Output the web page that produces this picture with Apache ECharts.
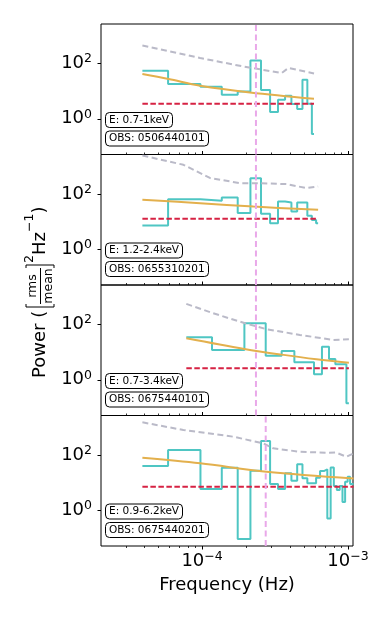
<!DOCTYPE html>
<html>
<head>
<meta charset="utf-8">
<script src="https://cdn.jsdelivr.net/npm/echarts@6/dist/echarts.min.js"></script>
<style>
  html, body { margin: 0; padding: 0; background: #fff; }
  #chart { width: 390px; height: 625px; }
</style>
</head>
<body>
<div id="chart"></div>
<script>
// panel labels
const energies = ['E: 0.7-1keV', 'E: 1.2-2.4keV', 'E: 0.7-3.4keV', 'E: 0.9-6.2keV'];
const obsIds = ['OBS: 0506440101', 'OBS: 0655310201', 'OBS: 0675440101', 'OBS: 0675440201'];

// PDS (Hz, power)
const freq1 = [3.9e-5, 7.8e-5, 1.17e-4, 1.56e-4, 1.95e-4, 2.34e-4, 2.73e-4, 3.12e-4, 3.51e-4, 3.9e-4, 4.29e-4, 4.68e-4, 5.07e-4, 5.46e-4, 5.85e-4];
const pds1 = [55.7, 18.3, 14.6, 7.46, 9.84, 132, 11.1, 1.75, 4.9, 6.87, 3.43, 2.25, 26.2, 3.5, 0.278];
const freq2 = [3.9e-5, 7.8e-5, 1.17e-4, 1.56e-4, 1.95e-4, 2.34e-4, 2.73e-4, 3.12e-4, 3.51e-4, 3.9e-4, 4.29e-4, 4.68e-4, 5.07e-4, 5.46e-4, 5.85e-4, 6.24e-4];
const pds2 = [7.28, 66.4, 57.6, 75.9, 20.6, 385, 19.4, 8.9, 54.3, 50, 23.5, 50, 50, 16.4, 11.7, 8.9];
const freq3 = [7.8e-5, 1.56e-4, 2.34e-4, 3.12e-4, 3.9e-4, 4.68e-4, 5.46e-4, 6.24e-4, 7.02e-4, 7.8e-4, 8.58e-4, 9.36e-4, 1.014e-3];
const pds3 = [35.1, 12.1, 113, 7.53, 11.2, 4.34, 4.34, 1.58, 16.0, 5.71, 3.66, 3.66, 0.14];
const freq4 = [3.9e-5, 7.8e-5, 1.17e-4, 1.56e-4, 1.95e-4, 2.34e-4, 2.73e-4, 3.12e-4, 3.51e-4, 3.9e-4, 4.29e-4, 4.68e-4, 5.07e-4, 5.46e-4,
               5.85e-4, 6.24e-4, 6.63e-4, 7.02e-4, 7.41e-4, 7.8e-4, 8.19e-4, 8.58e-4, 8.97e-4, 9.36e-4, 9.75e-4, 1.014e-3, 1.053e-3, 1.092e-3];
const pds4 = [40.5, 154, 5.9, 35.2, 0.09, 27.4, 329, 9.0, 5.9, 22, 11.8, 46.7, 14.5, 9.5,
              9.5, 15.2, 26.6, 30.7, 0.5, 36, 7.6, 5.4, 7.6, 2.0, 10.9, 16.6, 9, 9];

// best-fit model (orange)
const modelF1 = [3.9e-5, 5.9e-5, 9.7e-5, 2.13e-4, 5.85e-4];
const model1 = [42.3, 27.8, 15.9, 9.06, 5.35];
const modelF2 = [3.9e-5, 9.7e-5, 2.25e-4, 6.24e-4];
const model2 = [62.7, 47.4, 35.7, 27.1];
const modelF3 = [7.8e-5, 1.95e-4, 3.51e-4, 6.08e-4, 1.014e-3];
const model3 = [32.3, 13.2, 8.2, 5.57, 4.19];
const modelF4 = [3.9e-5, 9.7e-5, 2.76e-4, 1.092e-3];
const model4 = [81, 50.8, 25.1, 14.3];

// significance curve (grey dashed)
const sigF1 = [3.9e-5, 9.7e-5, 1.91e-4, 3.51e-4, 3.9e-4, 5.85e-4];
const sig1 = [463, 161, 80, 46, 70, 44.5];
const sigF2 = [3.9e-5, 7.45e-5, 1.14e-4, 1.82e-4, 2.49e-4, 3.79e-4, 5.2e-4, 6.24e-4];
const sig2 = [2560, 1175, 385, 253, 253, 233, 167, 190];
const sigF3 = [7.8e-5, 1.19e-4, 1.97e-4, 2.77e-4, 4.68e-4, 7.9e-4, 1.014e-3];
const sig3 = [571, 262, 113, 68.7, 42.7, 28.1, 29.7];
const sigF4 = [3.9e-5, 7.45e-5, 1.64e-4, 2.62e-4, 3.07e-4, 4.68e-4, 7.1e-4, 8.3e-4, 9.75e-4, 1.092e-3];
const sig4 = [1574, 826, 471, 271, 178, 134, 123, 125, 88, 117];

// white-noise level (red) and QPO frequency (pink)
const noiseLevel = [3.5, 12.8, 2.62, 7.16];
const qpoFreq = [2.34e-4, 2.34e-4, 2.34e-4, 2.73e-4];

// axes
const X_MIN = 2.03e-5, X_MAX = 1.082e-3;
const Y_MIN = 0.0503, Y_MAX = 2780;
const xMajor = [1e-4, 1e-3];
const xMinor = [3e-5, 4e-5, 5e-5, 6e-5, 7e-5, 8e-5, 9e-5, 2e-4, 3e-4, 4e-4, 5e-4, 6e-4, 7e-4, 8e-4, 9e-4];
const yMajor = [1, 100];

const FONT = 'DejaVu Sans';
const TEAL = '#4fc6c3', GOLD = '#e3b04d', RED = '#d62243', GREY = '#babac8', PINK = '#e9a8e9';

const panels = [
  [freq1, pds1, modelF1, model1, sigF1, sig1],
  [freq2, pds2, modelF2, model2, sigF2, sig2],
  [freq3, pds3, modelF3, model3, sigF3, sig3],
  [freq4, pds4, modelF4, model4, sigF4, sig4]
];

// matplotlib step(where='mid'): edges halfway between frequencies
function stepPoints(f, p) {
  const pts = [[f[0], p[0]]];
  for (let i = 1; i < f.length; i++) pts.push([(f[i - 1] + f[i]) / 2, p[i]]);
  pts.push([f[f.length - 1], p[p.length - 1]]);
  return pts;
}
function zip(a, b) { return a.map((v, i) => [v, b[i]]); }
function supText(e) { return e < 0 ? '\u2212' + Math.abs(e) : String(e); }
const lg = Math.log10;

const richTick = {
  b: { fontSize: 18, fontFamily: FONT, color: '#000', lineHeight: 22 },
  s: { fontSize: 12.5, fontFamily: FONT, color: '#000', lineHeight: 13, verticalAlign: 'top' }
};
const tickFmt = v => '{b|10}{s|' + supText(Math.round(v)) + '}';

const PANEL_TOP = 24, PANEL_H = 130.5;
const grid = [], xAxis = [], yAxis = [], series = [], title = [];

panels.forEach((pn, k) => {
  const [f, p, mf, m, sf, s] = pn;
  const top = PANEL_TOP + PANEL_H * k;
  grid.push({ left: 101, top: top, width: 252, height: PANEL_H, show: true,
    borderColor: '#000', borderWidth: 1, backgroundColor: 'transparent' });

  // data axes (log)
  xAxis.push({ type: 'log', gridIndex: k, min: X_MIN, max: X_MAX, position: 'bottom', show: false });
  // major ticks
  xAxis.push({
    type: 'value', gridIndex: k, min: lg(X_MIN), max: lg(X_MAX), position: 'bottom',
    axisLine: { show: false }, splitLine: { show: false },
    axisTick: { customValues: xMajor.map(lg), inside: k < 3, length: 3.5, lineStyle: { color: '#000', width: 1 } },
    axisLabel: { show: k === 3, customValues: xMajor.map(lg), formatter: tickFmt, rich: richTick, margin: 4 },
    name: k === 3 ? 'Frequency (Hz)' : '', nameLocation: 'middle', nameGap: 30,
    nameTextStyle: { fontSize: 18, fontFamily: FONT, color: '#000' }
  });
  // minor ticks
  xAxis.push({
    type: 'value', gridIndex: k, min: lg(X_MIN), max: lg(X_MAX), position: 'bottom',
    axisLine: { show: false }, splitLine: { show: false },
    axisTick: { customValues: xMinor.map(lg), inside: k < 3, length: 2, lineStyle: { color: '#000', width: 0.8 } },
    axisLabel: { show: false }
  });

  yAxis.push({ type: 'log', gridIndex: k, min: Y_MIN, max: Y_MAX, position: 'left', show: false });
  yAxis.push({
    type: 'value', gridIndex: k, min: lg(Y_MIN), max: lg(Y_MAX), position: 'left',
    axisLine: { show: false }, splitLine: { show: false },
    axisTick: { customValues: yMajor.map(lg), length: 3.5, lineStyle: { color: '#000', width: 1 } },
    axisLabel: { customValues: yMajor.map(lg), formatter: tickFmt, rich: richTick, margin: 9 }
  });

  const xi = 3 * k, yi = 2 * k;
  const base = { type: 'line', xAxisIndex: xi, yAxisIndex: yi, symbol: 'none', silent: true };
  series.push(Object.assign({}, base, { data: stepPoints(f, p), step: 'end',
    lineStyle: { color: TEAL, width: 2 }, z: 3 }));
  series.push(Object.assign({}, base, { data: zip(mf, m), smooth: 0.35,
    lineStyle: { color: GOLD, width: 2 }, z: 4 }));
  series.push(Object.assign({}, base, { data: [[f[0], noiseLevel[k]], [f[f.length - 1], noiseLevel[k]]],
    lineStyle: { color: RED, width: 2, type: [5.5, 2.5] }, z: 5 }));
  series.push(Object.assign({}, base, { data: zip(sf, s),
    lineStyle: { color: GREY, width: 2, type: [6, 3.5] }, z: 5 }));
  series.push(Object.assign({}, base, { data: [[qpoFreq[k], Y_MIN], [qpoFreq[k], Y_MAX]],
    lineStyle: { color: PINK, width: 2, type: [6, 3.5] }, z: 6 }));

  const box = { left: 105, padding: [2, 4], borderColor: '#000', borderWidth: 1, borderRadius: 4,
    backgroundColor: '#fff',
    textStyle: { fontSize: 10.5, fontFamily: FONT, fontWeight: 'normal', color: '#000', lineHeight: 12 } };
  title.push(Object.assign({}, box, { text: energies[k], top: top + 88 }));
  title.push(Object.assign({}, box, { text: obsIds[k], top: top + 106.5 }));
});

// y axis label with fraction
const f18 = '18px "' + FONT + '"', f12 = '12.5px "' + FONT + '"';
function txt(x, y, t, font, va) {
  return { type: 'text', x: x, y: y, silent: true,
    style: { text: t, font: font, fill: '#000', align: 'left', verticalAlign: va, textAlign: 'left', textVerticalAlign: va } };
}
const yLabel = {
  type: 'group', x: 40, y: 292, rotation: Math.PI / 2, silent: true,
  children: [
    txt(-86, 0, 'Power (', f18, 'middle'),
    { type: 'polyline', shape: { points: [[-12, -14], [-15, -14], [-15, 14], [-12, 14]] }, style: { stroke: '#000', lineWidth: 1, fill: null } },
    { type: 'text', x: 6, y: -1, style: { text: 'rms', font: f12, fill: '#000', align: 'center', verticalAlign: 'bottom', textAlign: 'center', textVerticalAlign: 'bottom' } },
    { type: 'line', shape: { x1: -12, y1: 0.5, x2: 24, y2: 0.5 }, style: { stroke: '#000', lineWidth: 1 } },
    { type: 'text', x: 6, y: 2, style: { text: 'mean', font: f12, fill: '#000', align: 'center', verticalAlign: 'top', textAlign: 'center', textVerticalAlign: 'top' } },
    { type: 'polyline', shape: { points: [[24, -14], [27, -14], [27, 14], [24, 14]] }, style: { stroke: '#000', lineWidth: 1, fill: null } },
    txt(29, -4, '2', f12, 'bottom'),
    txt(37, 0, 'Hz', f18, 'middle'),
    txt(60, -4, '\u22121', f12, 'bottom'),
    txt(78.5, 0, ')', f18, 'middle')
  ]
};

const chart = echarts.init(document.getElementById('chart'));
chart.setOption({
  animation: false,
  backgroundColor: '#fff',
  grid: grid,
  xAxis: xAxis,
  yAxis: yAxis,
  title: title,
  graphic: [yLabel],
  series: series
});
window.addEventListener('resize', function () { chart.resize(); });
</script>
</body>
</html>
